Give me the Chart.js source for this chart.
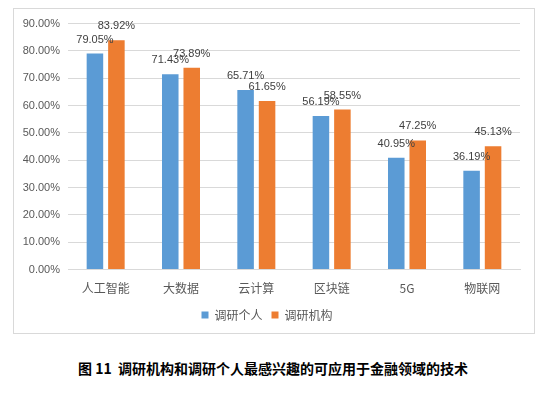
<!DOCTYPE html>
<html lang="zh">
<head>
<meta charset="UTF-8">
<title>调研机构和调研个人最感兴趣的技术</title>
<script src="https://cdn.jsdelivr.net/npm/chart.js@4.4.0/dist/chart.umd.min.js"></script>
<style>
    body {
        margin: 0;
        width: 550px;
        height: 394px;
        background: #fff;
        position: relative;
        overflow: hidden;
    }
    .chart-box {
        position: absolute;
        left: 13px;
        top: 8px;
        width: 520px;
        height: 324px;
        border: 1px solid #d9d9d9;
    }
    .caption {
        position: absolute;
        left: 0;
        width: 546px;
        top: 358px;
        text-align: center;
        font-family: "Noto Sans CJK SC", sans-serif;
        font-weight: bold;
        font-size: 14px;
        color: #000;
    }
</style>
</head>
<body>
<div class="chart-box"><canvas id="chart" width="520" height="324"></canvas></div>
<div class="caption">图 11&nbsp; 调研机构和调研个人最感兴趣的可应用于金融领域的技术</div>

<script>
    // 数据
    const categories = ['人工智能', '大数据', '云计算', '区块链', '5G', '物联网'];
    const personal = [79.05, 71.43, 65.71, 56.19, 40.95, 36.19];
    const institution = [83.92, 73.89, 61.65, 58.55, 47.25, 45.13];

    // 柱顶数值标签
    const valueLabels = {
        id: 'valueLabels',
        afterDatasetsDraw(chart) {
            const ctx = chart.ctx;
            ctx.save();
            ctx.font = '11px "Liberation Sans", Arial, sans-serif';
            ctx.fillStyle = '#404040';
            ctx.textAlign = 'center';
            ctx.textBaseline = 'middle';
            chart.data.datasets.forEach((ds, i) => {
                chart.getDatasetMeta(i).data.forEach((bar, j) => {
                    ctx.fillText(ds.data[j].toFixed(2) + '%', bar.x, bar.y - 14);
                });
            });
            ctx.restore();
        }
    };

    new Chart(document.getElementById('chart'), {
        type: 'bar',
        data: {
            labels: categories,
            datasets: [
                { label: '调研个人', data: personal, backgroundColor: '#5B9BD5' },
                { label: '调研机构', data: institution, backgroundColor: '#ED7D31' }
            ]
        },
        options: {
            responsive: false,
            animation: false,
            categoryPercentage: 0.57,
            barPercentage: 0.77,
            layout: { padding: { top: 13, right: 14, bottom: 2, left: 0 } },
            plugins: {
                legend: {
                    position: 'bottom',
                    labels: {
                        boxWidth: 7,
                        boxHeight: 7,
                        padding: 9,
                        color: '#595959',
                        font: { family: '"Noto Sans CJK SC", sans-serif', size: 12 }
                    }
                },
                tooltip: { enabled: false }
            },
            scales: {
                x: {
                    grid: { display: false },
                    border: { color: '#d9d9d9' },
                    ticks: {
                        color: '#595959',
                        padding: 4,
                        font: { family: '"Noto Sans CJK SC", sans-serif', size: 12 }
                    }
                },
                y: {
                    min: 0,
                    max: 90,
                    afterFit(scale) { scale.width = 54; },
                    grid: { color: '#d9d9d9', drawTicks: false },
                    border: { display: false },
                    ticks: {
                        stepSize: 10,
                        padding: 8,
                        color: '#595959',
                        font: { family: '"Liberation Sans", Arial, sans-serif', size: 11 },
                        callback: v => v.toFixed(2) + '%'
                    }
                }
            }
        },
        plugins: [valueLabels]
    });
</script>
</body>
</html>
